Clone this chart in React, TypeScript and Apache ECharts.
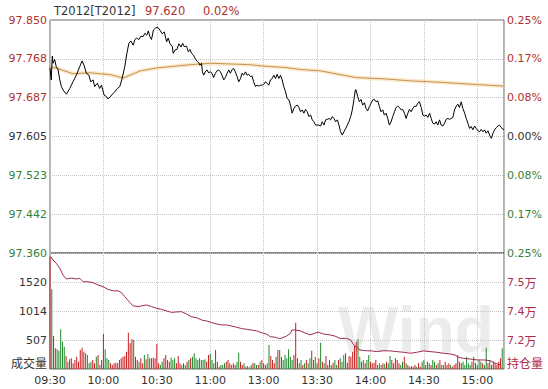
import React, { useEffect, useRef } from "react";
import * as echarts from "echarts";

const timeLabels = ["09:30", "10:00", "10:30", "11:00", "13:00", "13:30", "14:00", "14:30", "15:00"];
const priceTickLabels = ["97.360", "97.442", "97.523", "97.605", "97.687", "97.768", "97.850"];
const pctTickLabels = ["0.25%", "0.17%", "0.08%", "0.00%", "0.08%", "0.17%", "0.25%"];
const volTickLabels = ["", "507", "1014", "1520", ""];
const holdTickLabels = ["", "7.2{c|万}", "7.4{c|万}", "7.5{c|万}", ""];
const volAxisName = "成交量";
const holdAxisName = "持仓量";

// [minute since 09:30 (trading minutes), price]
const priceData: [number, number][] = [
  [0, 97.749], [0.7, 97.724], [1.3, 97.774], [1.7, 97.759], [2.6, 97.767], [3.5, 97.752], [4.5, 97.746],
  [5.5, 97.724], [6.4, 97.71], [7.3, 97.703], [9.2, 97.694], [11.1, 97.706], [12.9, 97.72], [14.8, 97.734],
  [16.7, 97.752], [18, 97.764], [19.1, 97.755], [20.4, 97.738], [21.8, 97.734], [22.9, 97.72], [24.2, 97.724],
  [25.1, 97.71], [26.6, 97.717], [27.9, 97.706], [28.9, 97.713], [30.4, 97.692], [31.7, 97.689], [32.6, 97.684],
  [34.2, 97.69], [35.5, 97.696], [36.4, 97.699], [37.9, 97.706], [39.2, 97.71], [40.5, 97.727], [42, 97.752],
  [43.2, 97.78], [44.3, 97.801], [45.4, 97.806], [46.7, 97.797], [47.7, 97.809], [48.6, 97.812], [49.9, 97.809],
  [51.1, 97.816], [52.3, 97.815], [53.3, 97.822], [54.4, 97.818], [55.2, 97.827], [56.1, 97.815], [57, 97.809],
  [58.1, 97.829], [59.3, 97.833], [60.4, 97.835], [61.7, 97.829], [63, 97.821], [64.2, 97.825], [65.5, 97.804],
  [66.4, 97.812], [67.4, 97.8], [68.7, 97.794], [69.2, 97.78], [70.2, 97.787], [71.3, 97.788], [72.4, 97.8],
  [73.6, 97.793], [74.5, 97.801], [75.4, 97.794], [76.7, 97.795], [77.7, 97.783], [78.6, 97.788], [79.5, 97.78],
  [80.6, 97.776], [81.8, 97.767], [82.9, 97.762], [83.6, 97.76], [84.2, 97.755], [85.1, 97.759], [85.6, 97.741],
  [86.3, 97.734], [87.2, 97.741], [88.2, 97.745], [89.1, 97.739], [90.1, 97.741], [91, 97.738], [91.9, 97.729],
  [92.9, 97.738], [93.8, 97.743], [94.7, 97.745], [95.7, 97.741], [96.6, 97.734], [97.6, 97.724], [98.5, 97.729],
  [99.5, 97.738], [100.4, 97.745], [101.3, 97.738], [102.3, 97.746], [103.2, 97.748], [104.1, 97.741],
  [105.1, 97.731], [106, 97.72], [107, 97.727], [107.9, 97.738], [108.8, 97.734], [109.8, 97.741], [110.7, 97.734],
  [111.6, 97.736], [112.6, 97.731], [113.5, 97.732], [114.4, 97.72], [115.4, 97.71], [116.3, 97.713],
  [117.3, 97.711], [118.2, 97.713], [119.2, 97.713], [120.1, 97.715], [121, 97.72], [122, 97.717], [122.9, 97.713],
  [123.8, 97.724], [124.8, 97.727], [125.7, 97.734], [126.7, 97.727], [127.6, 97.736], [128.5, 97.727],
  [129.5, 97.734], [130.4, 97.724], [131.3, 97.71], [132.3, 97.699], [133.2, 97.685], [134.2, 97.682],
  [135.1, 97.671], [136, 97.654], [137, 97.664], [137.9, 97.669], [138.9, 97.671], [139.8, 97.666], [140.7, 97.657],
  [141.7, 97.661], [142.6, 97.654], [143.5, 97.662], [144.5, 97.657], [145.4, 97.647], [146.4, 97.65],
  [147.3, 97.64], [148.2, 97.636], [149.2, 97.629], [150.1, 97.629], [151, 97.629], [152, 97.627], [152.9, 97.636],
  [153.9, 97.629], [154.8, 97.64], [155.7, 97.641], [156.7, 97.643], [157.6, 97.64], [158.6, 97.647],
  [159.5, 97.643], [160.4, 97.636], [161.4, 97.64], [162.3, 97.629], [163.2, 97.615], [164.2, 97.608],
  [165.1, 97.615], [166.1, 97.622], [167, 97.629], [167.9, 97.636], [168.9, 97.647], [169.8, 97.661],
  [170.7, 97.682], [171.5, 97.703], [171.9, 97.703], [172.8, 97.689], [173.8, 97.678], [174.7, 97.683],
  [175.6, 97.671], [176.6, 97.676], [177.5, 97.664], [178.4, 97.659], [179.4, 97.668], [180.3, 97.675],
  [181.3, 97.682], [182.2, 97.683], [183.1, 97.678], [184.1, 97.68], [185, 97.668], [185.9, 97.657],
  [186.9, 97.661], [187.8, 97.65], [188.8, 97.654], [189.7, 97.643], [190.6, 97.629], [191.6, 97.636],
  [192.5, 97.647], [193.5, 97.657], [194.4, 97.666], [195.3, 97.669], [196.3, 97.666], [197.2, 97.661],
  [198.1, 97.662], [199.1, 97.654], [200, 97.643], [201, 97.654], [201.9, 97.662], [202.8, 97.657], [203.8, 97.664],
  [204.7, 97.669], [205.6, 97.668], [206.6, 97.675], [207.5, 97.678], [208.5, 97.666], [209.4, 97.65],
  [210.3, 97.648], [211.3, 97.65], [212.2, 97.645], [213.2, 97.654], [214.1, 97.643], [215, 97.633],
  [216, 97.631], [216.9, 97.636], [217.8, 97.629], [218.8, 97.64], [219.7, 97.629], [220.7, 97.627],
  [221.6, 97.633], [222.5, 97.641], [223.5, 97.643], [224.4, 97.641], [225.3, 97.643], [226.3, 97.645],
  [227.2, 97.661], [228.2, 97.669], [229.1, 97.673], [230, 97.666], [231, 97.678], [231.9, 97.664],
  [232.9, 97.654], [233.8, 97.643], [234.7, 97.633], [235.7, 97.622], [236.6, 97.626], [237.5, 97.619],
  [238.5, 97.627], [239.4, 97.622], [240.4, 97.617], [241.3, 97.615], [242.2, 97.62], [243.2, 97.615],
  [244.1, 97.619], [245, 97.612], [246, 97.617], [246.9, 97.608], [247.9, 97.601], [248.8, 97.612],
  [249.7, 97.619], [250.7, 97.624], [251.6, 97.627], [252.5, 97.629], [253.5, 97.624], [254.4, 97.62], [255, 97.62],
];

const avgData: [number, number][] = [
  [0, 97.751], [3.4, 97.749], [12.9, 97.737], [22.5, 97.739], [33.8, 97.735], [41.1, 97.728], [50.7, 97.743],
  [59.7, 97.749], [70.4, 97.753], [78.8, 97.756], [90.1, 97.759], [112.6, 97.756], [119.9, 97.753],
  [132.3, 97.75], [140.7, 97.746], [152, 97.743], [157.6, 97.739], [171.7, 97.729], [188.6, 97.726],
  [202.6, 97.722], [219.5, 97.719], [236.4, 97.715], [255, 97.711],
];

// [minute, open interest]
const holdData: [number, number][] = [
  [0.4, 75840], [1.7, 75700], [3.5, 75560], [5.5, 75340], [7.3, 75050], [9.2, 74880], [12, 74920], [14.8, 74880],
  [16.7, 74910], [18.6, 74760], [21.4, 74760], [24.2, 74720], [27, 74620], [29.8, 74550], [32.6, 74430],
  [35.5, 74370], [38.3, 74370], [40.1, 74290], [42, 74120], [44.9, 73860], [46.7, 73720], [49.5, 73690],
  [51.4, 73720], [54.2, 73760], [57, 73690], [59.8, 73620], [62.7, 73570], [65.5, 73500], [68.3, 73440],
  [71.1, 73460], [73.9, 73470], [76.7, 73370], [79.5, 73250], [82.4, 73210], [85.2, 73110], [88, 73070],
  [90.8, 73000], [93.6, 72940], [96.4, 72900], [99.2, 72900], [102.1, 72850], [104.9, 72800], [107.7, 72740],
  [110.5, 72710], [113.3, 72680], [116.1, 72640], [118.9, 72560], [121.8, 72500], [123.7, 72390], [126.5, 72370],
  [128.3, 72320], [130, 72320], [132.8, 72420], [135.1, 72540], [135.8, 72680], [137.5, 72680], [140.3, 72650],
  [143.1, 72560], [146, 72470], [148.8, 72540], [150.7, 72590], [153.5, 72510], [157.2, 72470], [160, 72420],
  [162.9, 72320], [166.6, 72320], [168.9, 72250], [170.7, 72030], [172.2, 71940], [174.1, 71820], [176.9, 71790],
  [180.7, 71780], [183.5, 71750], [187.3, 71790], [191, 71780], [194.8, 71750], [198.5, 71720], [202.3, 71680],
  [206, 71720], [209.8, 71780], [213.5, 71750], [217.3, 71720], [221, 71680], [224.8, 71650], [227.6, 71600],
  [229.5, 71500], [232.3, 71460], [236, 71430], [239.8, 71390], [243.6, 71390], [247.3, 71360], [250.1, 71250],
  [252.9, 71170],
];

// volume per minute, minute 0 .. 254
const volumes: number[] = [
  1960, 1392, 577, 361, 344, 320, 693, 478, 390, 227,
  128, 169, 186, 99, 157, 215, 128, 332, 373,
  303, 274, 245, 99, 128, 157, 99, 215, 245, 70,
  157, 611, 344, 186, 157, 99, 70, 99, 110,
  99, 157, 186, 215, 227, 303, 635, 448, 518, 507,
  215, 157, 128, 186, 99, 245, 169, 262, 186,
  186, 198, 186, 437, 99, 70, 128, 186, 245,
  157, 128, 203, 157, 186, 99, 227, 99, 70, 99,
  70, 128, 157, 186, 215, 274, 186, 157, 186,
  157, 157, 169, 128, 245, 262, 157, 99, 332, 128,
  41, 70, 70, 99, 128, 157, 99, 70, 99,
  70, 128, 285, 128, 70, 99, 41, 52, 29,
  70, 110, 99, 70, 70, 128, 157, 99, 70, 99,
  419, 227, 157, 99, 215, 332,
  332, 215, 157, 245, 186, 344, 215, 157, 245, 810,
  186, 99, 157, 70, 99, 157, 99, 186, 320,
  157, 215, 99, 186, 460, 128, 99, 227, 70,
  157, 70, 110, 157, 70, 157, 186, 128, 245, 274,
  110, 227, 215, 303, 402, 478, 518, 215, 128,
  157, 99, 157, 245, 128, 99, 110, 157, 70,
  99, 70, 99, 87, 128, 99, 227, 157, 99, 186,
  157, 99, 70, 128, 215, 99, 70, 41, 52,
  41, 70, 41, 99, 41, 128, 157, 70, 128,
  99, 70, 157, 128, 70, 99, 157, 70, 70,
  128, 70, 99, 70, 41, 70, 99, 245, 128, 99,
  128, 70, 215, 99, 70, 128, 215, 99, 70,
  157, 128, 99, 70, 373, 99, 157, 70, 128,
  99, 70, 128, 186, 361,
];

const RED = "#b03030";
const GREEN = "#35803a";
const GRAY = "#333333";
const CRIMSON = "#b0284f";
const FONT = "'DejaVu Sans', 'Noto Sans CJK SC', sans-serif";
const CJK = "'Noto Sans CJK SC', sans-serif";

function barColor(i: number): string {
  // compare price at this minute with the previous minute (nearest earlier sample)
  const at = (m: number) => {
    let p = priceData[0][1];
    for (const [t, v] of priceData) {
      if (t <= m) p = v;
      else break;
    }
    return p;
  };
  if (i === 0) return "#c81e1e";
  return at(i) >= at(i - 1) ? "#c81e1e" : "#20882a";
}

export default function App() {
  const ref = useRef<HTMLDivElement>(null);
  useEffect(() => {
    if (!ref.current) return;
    const chart = echarts.init(ref.current, undefined, { renderer: "svg" });
    const split = { show: true, lineStyle: { type: "dotted" as const, color: "#c4c4c4", width: 1 } };
    const priceColor = (_v: any, i: number) => (i < 3 ? GREEN : i === 3 ? GRAY : RED);
    chart.setOption({
      animation: false,
      backgroundColor: "#ffffff",
      textStyle: { fontFamily: FONT },
      grid: [
        { left: 50, top: 20, width: 454, height: 233, show: true, borderColor: "#606060", borderWidth: 1 },
        { left: 50, top: 253, width: 454, height: 116, show: true, borderColor: "#606060", borderWidth: 1 },
      ],
      xAxis: [
        {
          gridIndex: 0, type: "value", min: 0, max: 255, interval: 30,
          axisLine: { show: false }, axisTick: { show: false }, axisLabel: { show: false }, splitLine: split,
        },
        {
          gridIndex: 1, type: "value", min: 0, max: 255, interval: 30,
          axisLine: { show: false }, axisTick: { show: false }, splitLine: split,
          axisLabel: {
            show: true, margin: 6, color: GRAY, fontSize: 11, fontFamily: FONT,
            formatter: (v: number) => (v % 30 === 0 && v / 30 < timeLabels.length ? timeLabels[v / 30] : ""),
          },
        },
      ],
      yAxis: [
        {
          gridIndex: 0, position: "left", type: "value", min: 0, max: 6, interval: 1,
          axisLine: { show: false }, axisTick: { show: false }, splitLine: split,
          axisLabel: { margin: 3, fontSize: 11, fontFamily: FONT, color: priceColor, formatter: (v: number) => priceTickLabels[Math.round(v)] },
        },
        {
          gridIndex: 0, position: "right", type: "value", min: 0, max: 6, interval: 1,
          axisLine: { show: false }, axisTick: { show: false }, splitLine: { show: false },
          axisLabel: { margin: 3, fontSize: 11, fontFamily: FONT, color: priceColor, formatter: (v: number) => pctTickLabels[Math.round(v)] },
        },
        { gridIndex: 0, type: "value", min: 97.36, max: 97.85, show: false, splitLine: { show: false } },
        {
          gridIndex: 1, position: "left", type: "value", min: 0, max: 2027, interval: 506.75,
          axisLine: { show: false }, axisTick: { show: false }, splitLine: split,
          axisLabel: {
            margin: 3, fontSize: 11, fontFamily: FONT, color: GRAY,
            formatter: (v: number) => volTickLabels[Math.round(v / 506.75)],
          },
        },
        {
          gridIndex: 1, position: "right", type: "value", min: 0, max: 2027, interval: 506.75,
          axisLine: { show: false }, axisTick: { show: false }, splitLine: { show: false },
          axisLabel: {
            margin: 3, fontSize: 11, fontFamily: FONT, color: CRIMSON,
            formatter: (v: number) => holdTickLabels[Math.round(v / 506.75)],
            rich: { c: { fontFamily: CJK, fontSize: 12, color: CRIMSON } },
          },
        },
        { gridIndex: 1, type: "value", min: 71000, max: 76000, show: false, splitLine: { show: false } },
      ],
      graphic: [
        {
          type: "text", left: 338, top: 298, z: -10, silent: true,
          style: { text: "Wind", font: "bold 64px 'Liberation Sans', Arial, sans-serif", fill: "#ececec" },
        },
        { type: "text", left: 54, top: 5, style: { text: "T2012[T2012]", font: `11.5px ${FONT}`, fill: GRAY } },
        { type: "text", left: 145, top: 5, style: { text: "97.620", font: `11.5px ${FONT}`, fill: RED } },
        { type: "text", left: 203, top: 5, style: { text: "0.02%", font: `11.5px ${FONT}`, fill: RED } },
        {
          type: "text", right: 548 - 47, top: 356,
          style: { text: volAxisName, font: `12px ${CJK}`, fill: GRAY, align: "right" },
        },
        { type: "text", left: 507, top: 356, style: { text: holdAxisName, font: `12px ${CJK}`, fill: CRIMSON } },
      ],
      series: [
        {
          type: "line", xAxisIndex: 0, yAxisIndex: 2, data: avgData, showSymbol: false, silent: true,
          lineStyle: { color: "rgba(250, 215, 160, 0.55)", width: 4 }, z: 2,
        },
        {
          type: "line", xAxisIndex: 0, yAxisIndex: 2, data: avgData, showSymbol: false,
          lineStyle: { color: "#c39255", width: 1 }, z: 3,
        },
        {
          type: "line", xAxisIndex: 0, yAxisIndex: 2, data: priceData, showSymbol: false,
          lineStyle: { color: "#000000", width: 1 }, z: 4,
        },
        {
          type: "bar", xAxisIndex: 1, yAxisIndex: 3, barWidth: 1,
          data: volumes.map((v, i) => ({ value: [i, v], itemStyle: { color: barColor(i) } })),
          z: 2,
        },
        {
          type: "line", xAxisIndex: 1, yAxisIndex: 5, data: holdData, showSymbol: false,
          lineStyle: { color: "#9e2a50", width: 1 }, z: 4,
        },
      ],
    });
    return () => chart.dispose();
  }, []);
  return <div ref={ref} style={{ position: "fixed", left: 0, top: 0, width: 548, height: 389, background: "#fff" }} />;
}
